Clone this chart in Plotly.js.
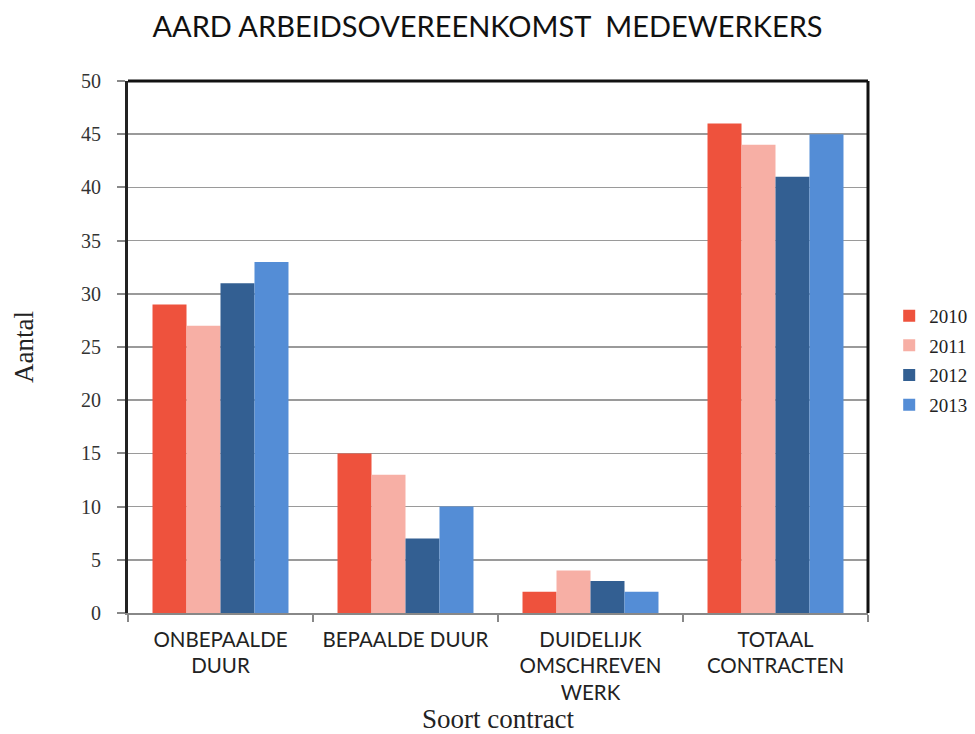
<!DOCTYPE html>
<html>
<head>
<meta charset="utf-8">
<script src="https://cdn.plot.ly/plotly-3.0.1.min.js"></script>
<style>html,body{margin:0;padding:0;background:#fff;overflow:hidden;}#chart{width:975px;height:734px;}</style>
</head>
<body>
<div id="chart"></div>
<script>
const categories = ["ONBEPAALDE<br>DUUR", "BEPAALDE DUUR", "DUIDELIJK<br>OMSCHREVEN<br>WERK", "TOTAAL<br>CONTRACTEN"];
const seriesNames = ["2010", "2011", "2012", "2013"];
const v2010 = [29, 15, 2, 46];
const v2011 = [27, 13, 4, 44];
const v2012 = [31, 7, 3, 41];
const v2013 = [33, 10, 2, 45];
const colors = ["#EE523D", "#F7AFA5", "#335F92", "#548DD6"];
const values = [v2010, v2011, v2012, v2013];

const traces = values.map((v, i) => ({
  type: "bar",
  name: seriesNames[i],
  legendgroup: seriesNames[i],
  x: categories,
  y: v,
  marker: {color: colors[i], line: {width: 0}},
  hoverinfo: "y"
}));

const serif = "Liberation Serif, DejaVu Serif, serif";
const sans = "Lato, Open Sans, sans-serif";

const layout = {
  width: 975, height: 734,
  margin: {l: 128, r: 107, t: 81, b: 121, autoexpand: false},
  paper_bgcolor: "#fff", plot_bgcolor: "#fff",
  barmode: "group", bargap: 0.265, bargroupgap: 0,
  title: {text: "AARD ARBEIDSOVEREENKOMST  MEDEWERKERS", font: {family: sans, size: 29, color: "#111"}, x: 0.5, xanchor: "center", y: 0.963, yanchor: "middle"},
  xaxis: {
    type: "category",
    title: {text: "Soort contract", font: {family: serif, size: 27, color: "#222"}, standoff: 12},
    tickfont: {family: sans, size: 20.5, color: "#222"},
    tickson: "boundaries", ticks: "outside", ticklen: 7, tickcolor: "#888", tickwidth: 2,
    ticklabelstandoff: 7,
    showline: true, linecolor: "#888", linewidth: 2, mirror: false,
    showgrid: false, zeroline: false, fixedrange: true
  },
  yaxis: {
    range: [0, 50], dtick: 5, tick0: 0,
    title: {text: "Aantal", font: {family: serif, size: 27, color: "#222"}, standoff: 40},
    tickfont: {family: serif, size: 20, color: "#333"},
    ticks: "outside", ticklen: 8, tickcolor: "#888", tickwidth: 2,
    ticklabelstandoff: 12,
    showline: true, linecolor: "#222", linewidth: 3, mirror: false,
    showgrid: true, gridcolor: "#9a9a9a", gridwidth: 1.5, zeroline: false, fixedrange: true
  },
  shapes: [
    {type: "line", xref: "paper", yref: "paper", x0: 0, x1: 1, y0: 1, y1: 1, line: {color: "#111", width: 3}},
    {type: "line", xref: "paper", yref: "paper", x0: 1, x1: 1, y0: 0, y1: 1, line: {color: "#111", width: 3}}
  ],
  legend: {
    xref: "container", yref: "paper",
    x: 0.912, xanchor: "left", y: 0.475, yanchor: "middle",
    font: {family: serif, size: 19, color: "#222"},
    itemwidth: 30, tracegroupgap: 2, bgcolor: "rgba(0,0,0,0)"
  },
  showlegend: true
};

Plotly.newPlot("chart", traces, layout, {displayModeBar: false, staticPlot: true});
</script>
</body>
</html>
